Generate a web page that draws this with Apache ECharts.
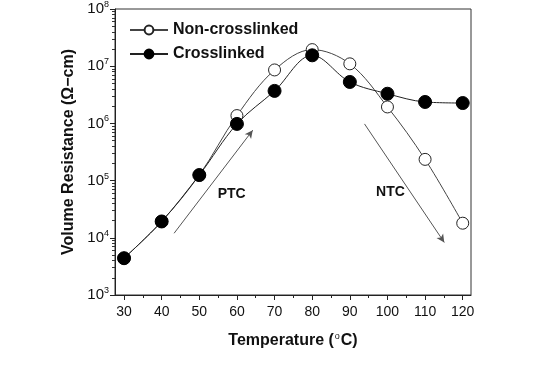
<!DOCTYPE html>
<html><head><meta charset="utf-8">
<script src="https://cdn.jsdelivr.net/npm/echarts@6/dist/echarts.min.js"></script>
<style>html,body{margin:0;padding:0;background:#fff}#c{width:550px;height:368px}</style>
</head><body><div id="c"></div>
<script>
const temps = [30, 40, 50, 60, 70, 80, 90, 100, 110, 120];
const nonCrosslinked = [4.4e3, 1.93e4, 1.25e5, 1.37e6, 8.6e6, 1.95e7, 1.1e7, 1.94e6, 2.35e5, 1.8e4];
const crosslinked = [4.4e3, 1.93e4, 1.25e5, 9.8e5, 3.7e6, 1.55e7, 5.3e6, 3.3e6, 2.37e6, 2.27e6];
const xTicks = [30, 40, 50, 60, 70, 80, 90, 100, 110, 120];
const xMinorTicks = [35, 45, 55, 65, 75, 85, 95, 105, 115];
const yDecades = [1e3, 1e4, 1e5, 1e6, 1e7];
const yMinorSteps = [2, 3, 4, 5, 6, 7, 8, 9];
const ptcArrow = [[43.3, 1.2e4], [64.2, 7.6e5]];
const ntcArrow = [[93.9, 9.8e5], [115.1, 8.3e3]];
const ptcLabel = [58.6, 5.9e4];
const ntcLabel = [100.8, 6.2e4];

const yMinorTicks = [];
yDecades.forEach(d => yMinorSteps.forEach(s => yMinorTicks.push(d * s)));

const FONT = 'Liberation Sans, Arial, sans-serif';
const chart = echarts.init(document.getElementById('c'));
const pair = (xs, ys) => xs.map((x, i) => [x, ys[i]]);

chart.setOption({
  animation: false,
  grid: { left: 115, right: 79, top: 7, bottom: 73, show: true, borderColor: '#333', borderWidth: 1 },
  legend: {
    left: 124, top: 17, orient: 'vertical', itemGap: 8, itemWidth: 38, itemHeight: 11,
    textStyle: { fontFamily: FONT, fontWeight: 'bold', fontSize: 16, color: '#111' },
    data: ['Non-crosslinked', 'Crosslinked']
  },
  xAxis: [{
    type: 'value', min: 27.6, max: 122.2, position: 'bottom',
    name: '{t|Temperature (}{s|o}{t|C)}', nameLocation: 'middle', nameGap: 37,
    nameTextStyle: {
      rich: {
        t: { fontFamily: FONT, fontWeight: 'bold', fontSize: 16, color: '#111' },
        s: { fontFamily: FONT, fontSize: 9, color: '#111', verticalAlign: 'top', padding: [0, 1, 8, 1] }
      }
    },
    axisLine: { lineStyle: { color: '#222', width: 1 } },
    axisTick: { customValues: xTicks, length: 5, lineStyle: { color: '#222' } },
    axisLabel: { customValues: xTicks, fontFamily: FONT, fontSize: 14, color: '#111', margin: 10 },
    splitLine: { show: false }
  }, {
    type: 'value', min: 27.6, max: 122.2, position: 'bottom',
    axisLine: { show: false },
    axisTick: { customValues: xMinorTicks, length: 3, lineStyle: { color: '#222' } },
    axisLabel: { show: false }, splitLine: { show: false }
  }],
  yAxis: [{
    type: 'log', min: 1e3, max: 1e8, logBase: 10, position: 'left',
    name: 'Volume Resistance (Ω−cm)', nameLocation: 'middle', nameGap: 31,
    nameTextStyle: { fontFamily: FONT, fontWeight: 'bold', fontSize: 16, color: '#111' },
    axisLine: { show: true, lineStyle: { color: '#222', width: 1 } },
    axisTick: { show: true, length: 5, lineStyle: { color: '#222' } },
    axisLabel: {
      fontFamily: FONT, color: '#111', margin: 6,
      formatter: v => '{b|10}{s|' + Math.round(Math.log10(v)) + '}',
      rich: {
        b: { fontFamily: FONT, fontSize: 15, color: '#111' },
        s: { fontFamily: FONT, fontSize: 9, color: '#111', verticalAlign: 'top', padding: [0, 0, 9, 0] }
      }
    },
    splitLine: { show: false }
  }, {
    type: 'log', min: 1e3, max: 1e8, logBase: 10, position: 'left',
    axisLine: { show: false },
    axisTick: { show: true, customValues: yMinorTicks, length: 3, lineStyle: { color: '#333' } },
    axisLabel: { show: false }, splitLine: { show: false }
  }],
  series: [{
    name: 'Non-crosslinked', type: 'line', smooth: 0.35,
    data: pair(temps, nonCrosslinked),
    symbol: 'circle', symbolSize: 12,
    lineStyle: { color: '#444', width: 1 },
    itemStyle: { color: '#fff', borderColor: '#222', borderWidth: 1 },
    z: 3,
    markLine: {
      silent: true, symbol: ['none', 'arrow'], symbolSize: [6, 8],
      lineStyle: { color: '#555', width: 1, type: 'solid' }, label: { show: false },
      data: [
        [{ coord: ptcArrow[0] }, { coord: ptcArrow[1] }],
        [{ coord: ntcArrow[0] }, { coord: ntcArrow[1] }]
      ]
    },
    markPoint: {
      silent: true, symbol: 'circle', symbolSize: 1, itemStyle: { color: 'rgba(0,0,0,0)' },
      label: { show: true, position: 'inside', fontFamily: FONT, fontWeight: 'bold', fontSize: 14, color: '#111' },
      data: [
        { coord: ptcLabel, label: { formatter: 'PTC' } },
        { coord: ntcLabel, label: { formatter: 'NTC' } }
      ]
    }
  }, {
    name: 'Crosslinked', type: 'line', smooth: 0.35,
    data: pair(temps, crosslinked),
    symbol: 'circle', symbolSize: 13,
    lineStyle: { color: '#222', width: 1 },
    itemStyle: { color: '#000', borderColor: '#000', borderWidth: 1 },
    z: 4
  }]
});
</script></body></html>
